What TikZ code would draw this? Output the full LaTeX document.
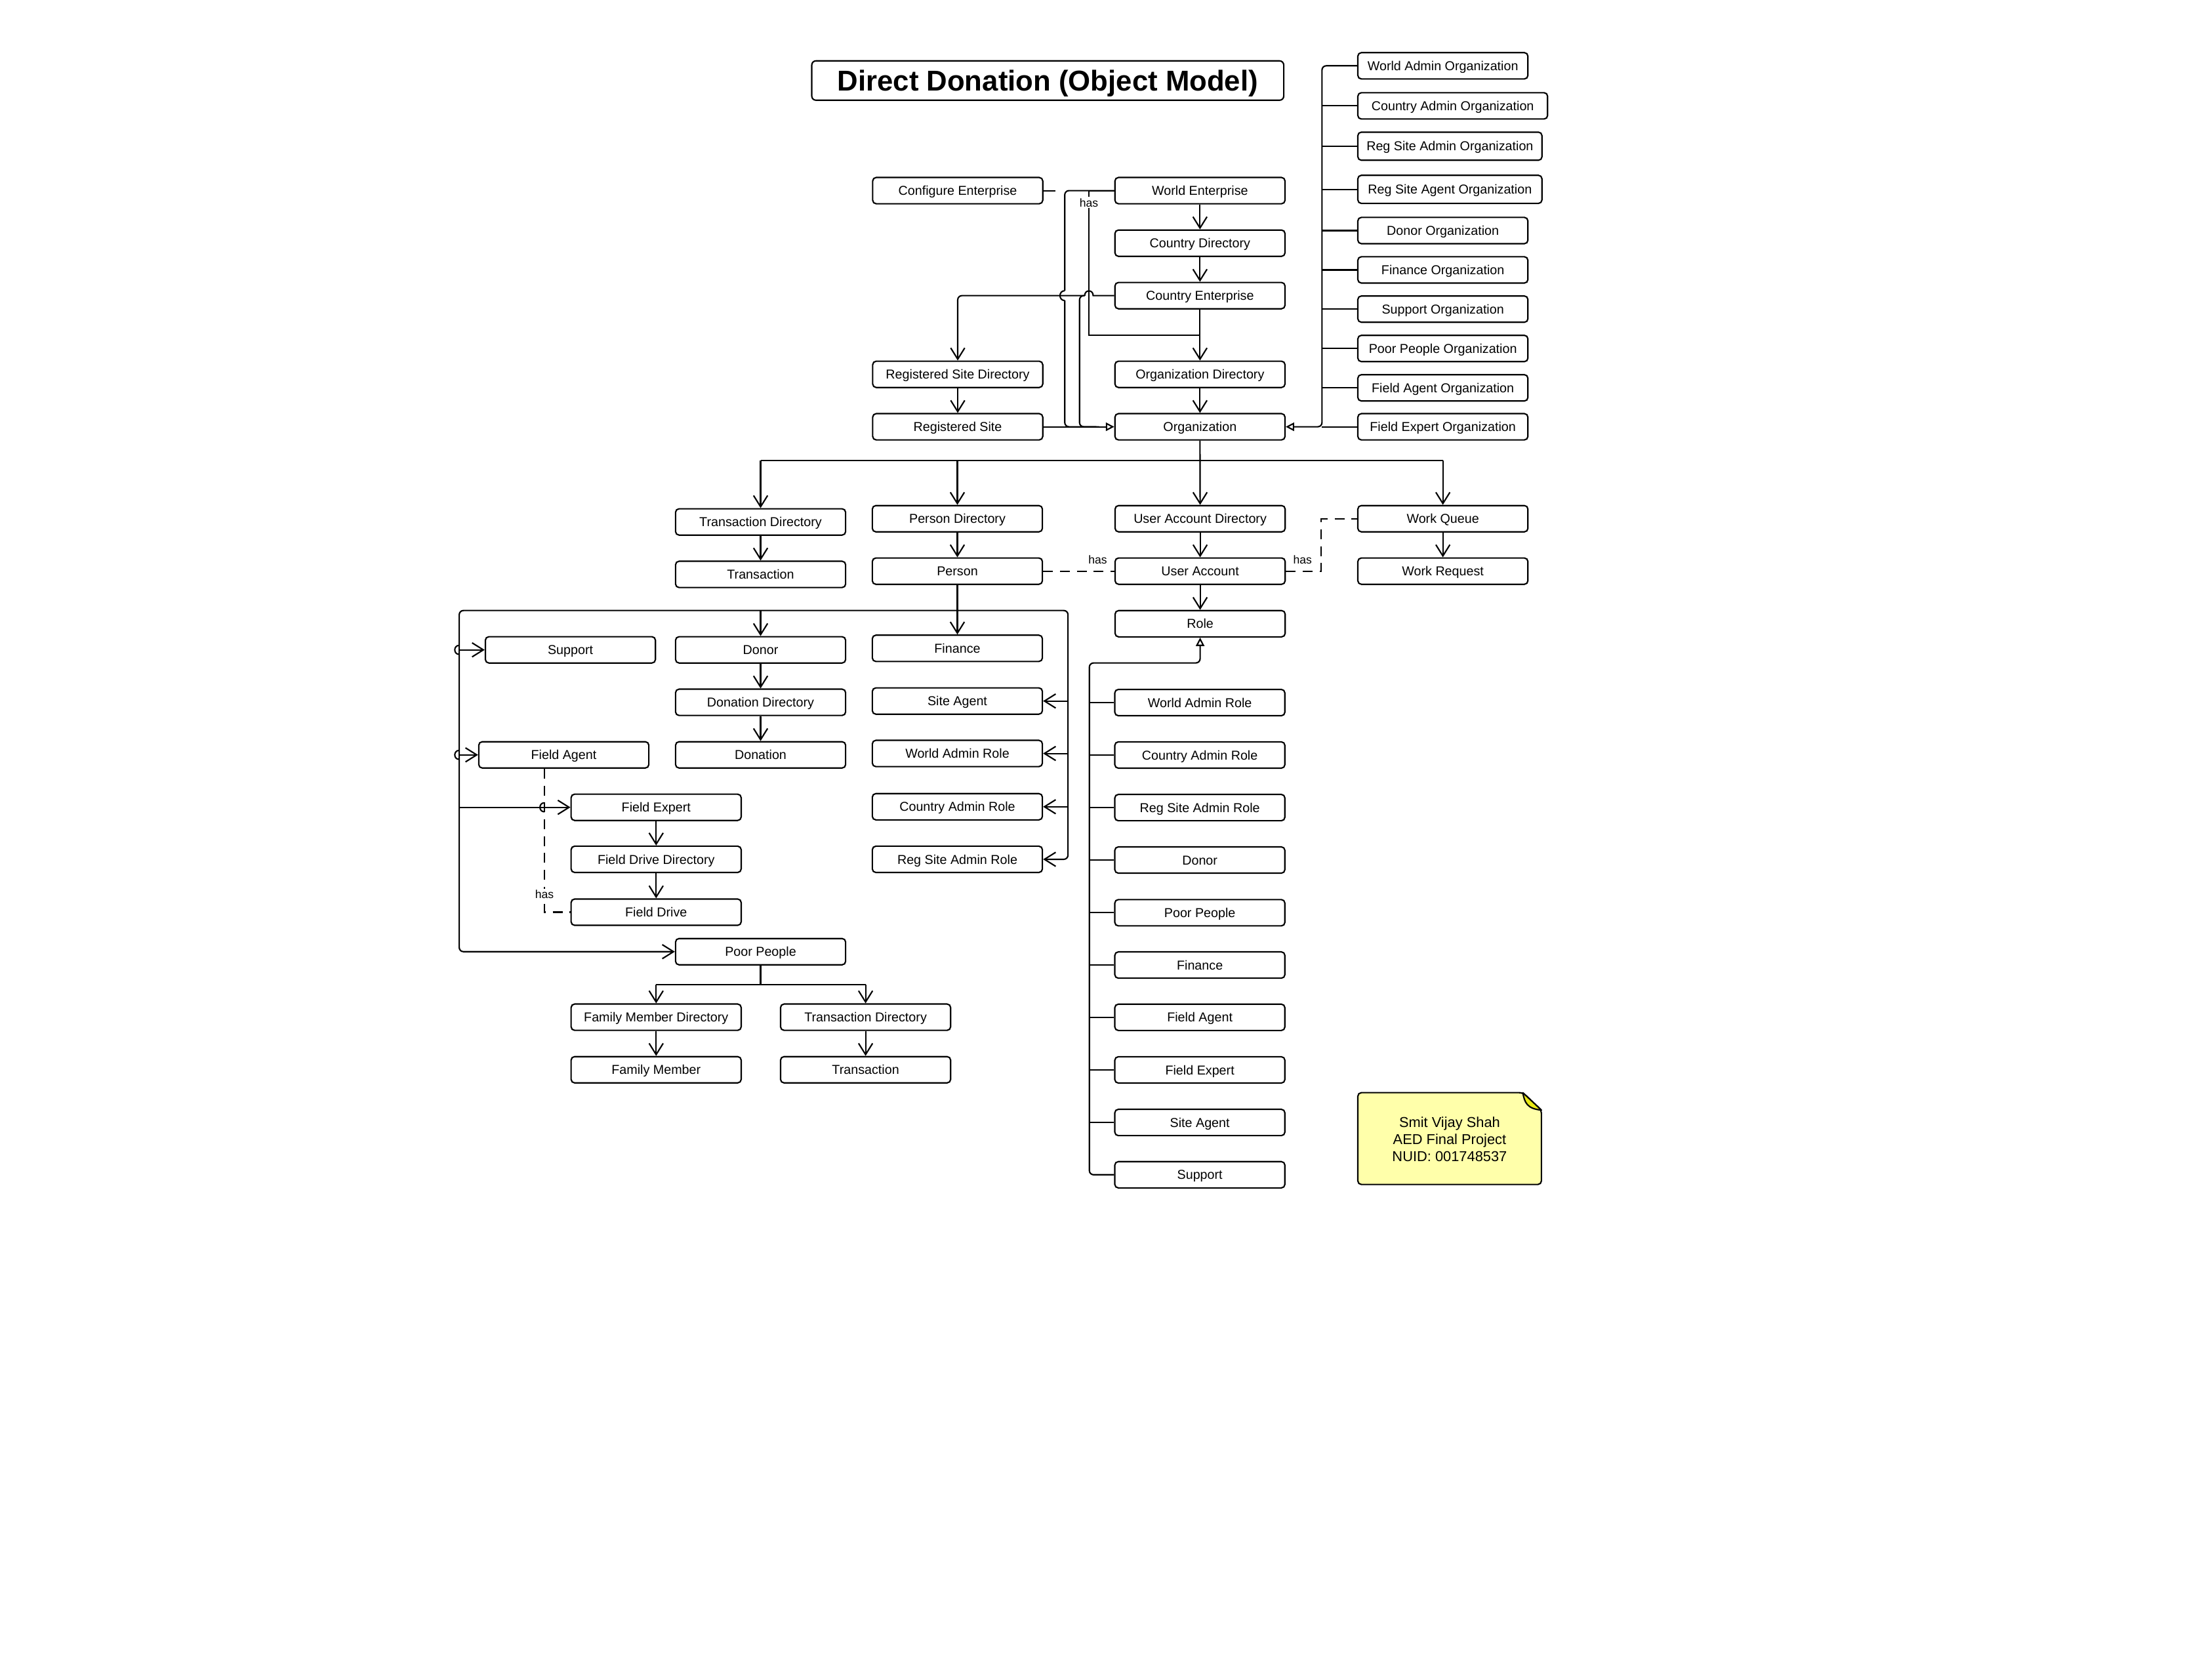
\documentclass[tikz,border=0pt]{standalone}
\usepackage{fontspec}
\setmainfont{Liberation Sans}
\usetikzlibrary{arrows.meta}
\definecolor{notefill}{RGB}{255,255,170}
\definecolor{foldfill}{RGB}{232,232,20}
\begin{document}
\begin{tikzpicture}[x=1pt,y=-1pt,
 box/.style={draw, line width=1pt, rounded corners=2.5pt, minimum width=121pt, minimum height=18.7pt, inner sep=0pt, text height=6.6pt, text depth=0pt, font=\fontsize{9.2}{11}\selectfont, fill=white},
 ln/.style={line width=1pt},
 arr/.style={ln, -{Straight Barb[length=8pt,width=10pt]}},
 gen/.style={ln, -{Triangle[open,length=6pt,width=6pt,fill=white]}},
 dl/.style={ln, dash pattern=on 7pt off 5pt},
 haslbl/.style={font=\fontsize{8.2}{10}\selectfont, fill=white, inner sep=1pt},
]
\useasboundingbox (0,0) rectangle (1568,1194.7);
\fill[white] (0,0) rectangle (1568,1194.7);

% title
\node[draw, line width=1pt, rounded corners=3pt, minimum width=335.8pt, minimum height=28pt, inner sep=0pt, text height=14.6pt, text depth=0pt, font=\fontsize{20.4}{24}\selectfont\bfseries] (title) at (745.4,57.3) {Direct Donation (Object Model)};

% top section
\node[box] (conf) at (681.35,135.6) {Configure Enterprise};
\node[box] (we) at (853.7,135.6) {World Enterprise};
\node[box] (cd) at (853.7,173) {Country Directory};
\node[box] (ce) at (853.7,210.3) {Country Enterprise};
\node[box] (rsd) at (681.35,266.3) {Registered Site Directory};
\node[box] (od) at (853.7,266.3) {Organization Directory};
\node[box] (rs) at (681.35,303.6) {Registered Site};
\node[box] (org) at (853.7,303.6) {Organization};

% organization list
\node[box] (o1) at (1026.5,46.8) {World Admin Organization};
\node[box, minimum width=135pt] (o2) at (1033.5,75.3) {Country Admin Organization};
\node[box, minimum width=131pt, minimum height=20pt] (o3) at (1031.5,104) {Reg Site Admin Organization};
\node[box, minimum width=131pt, minimum height=20pt] (o4) at (1031.5,134.7) {Reg Site Agent Organization};
\node[box] (o5) at (1026.5,164) {Donor Organization};
\node[box] (o6) at (1026.5,192) {Finance Organization};
\node[box] (o7) at (1026.5,219.9) {Support Organization};
\node[box] (o8) at (1026.5,247.9) {Poor People Organization};
\node[box] (o9) at (1026.5,275.9) {Field Agent Organization};
\node[box] (o10) at (1026.5,303.6) {Field Expert Organization};

% middle
\node[box] (td) at (541.1,371.3) {Transaction Directory};
\node[box] (tr) at (541.1,408.6) {Transaction};
\node[box] (pd) at (681.1,369) {Person Directory};
\node[box] (pe) at (681.1,406.3) {Person};
\node[box] (uad) at (853.8,369) {User Account Directory};
\node[box] (ua) at (853.8,406.3) {User Account};
\node[box] (wq) at (1026.5,369) {Work Queue};
\node[box] (wr) at (1026.5,406.3) {Work Request};
\node[box] (role) at (853.8,443.7) {Role};

% left group
\node[box] (sup) at (405.8,462.3) {Support};
\node[box] (don) at (541.1,462.3) {Donor};
\node[box] (fin) at (681.1,461.2) {Finance};
\node[box] (dd) at (541.1,499.6) {Donation Directory};
\node[box] (sa) at (681.1,498.7) {Site Agent};
\node[box] (dn) at (541.1,537) {Donation};
\node[box] (fa) at (401.1,537) {Field Agent};
\node[box] (war) at (681.1,536) {World Admin Role};
\node[box] (fe) at (466.8,574.3) {Field Expert};
\node[box] (car) at (681.1,573.9) {Country Admin Role};
\node[box] (fdd) at (466.8,611.3) {Field Drive Directory};
\node[box] (rsar) at (681.1,611.3) {Reg Site Admin Role};
\node[box] (fd) at (466.8,648.9) {Field Drive};
\node[box] (pp) at (541.1,677) {Poor People};
\node[box] (fmd) at (466.8,723.6) {Family Member Directory};
\node[box] (td2) at (615.8,723.6) {Transaction Directory};
\node[box] (fm) at (466.8,761) {Family Member};
\node[box] (tr2) at (615.8,761) {Transaction};

% role list
\node[box] (r1) at (853.6,499.8) {World Admin Role};
\node[box] (r2) at (853.6,537.1) {Country Admin Role};
\node[box] (r3) at (853.6,574.5) {Reg Site Admin Role};
\node[box] (r4) at (853.6,611.8) {Donor};
\node[box] (r5) at (853.6,649.3) {Poor People};
\node[box] (r6) at (853.6,686.5) {Finance};
\node[box] (r7) at (853.6,723.7) {Field Agent};
\node[box] (r8) at (853.6,761.1) {Field Expert};
\node[box] (r9) at (853.6,798.5) {Site Agent};
\node[box] (r10) at (853.6,835.7) {Support};

% note
\draw[ln, fill=notefill, rounded corners=2.5pt] (966,777.3) -- (1083.4,777.3) -- (1096.6,789.7) -- (1096.6,842.6) -- (966,842.6) -- cycle;
\draw[ln, fill=foldfill, line join=round] (1083.4,777.3) .. controls (1084.5,784.3) and (1086.5,788.8) .. (1096.6,789.7) -- cycle;
\node[font=\fontsize{10.2}{12.2}\selectfont, align=center] (note) at (1031.3,810.5) {Smit Vijay Shah\\AED Final Project\\NUID: 001748537};

% ---------- connectors: top ----------
\draw[arr] (we.south) -- (cd.north);
\draw[arr] (cd.south) -- (ce.north);
\draw[arr] (ce.south) -- (od.north);
\draw[arr] (od.south) -- (org.north);
\draw[arr] (rsd.south) -- (rs.north);
\draw[ln] (conf.east) -- (751,135.6);
% World Enterprise generalization
\draw[ln, rounded corners=3pt] (we.west) -- (757.5,135.6) -- (757.5,206.8);
\draw[ln] (757.5,206.8) .. controls (753,206.8) and (753,213.8) .. (757.5,213.8);
\draw[ln, rounded corners=3pt] (757.5,213.8) -- (757.5,303.6) -- (780,303.6);
% Country Enterprise to Registered Site Directory
\draw[ln] (ce.west) -- (777.7,210.3) .. controls (777.7,205.8) and (771.7,205.8) .. (771.7,210.3);
\draw[arr, rounded corners=3pt] (771.7,210.3) -- (681.35,210.3) -- (rsd.north);
% Country Enterprise generalization
\draw[ln, rounded corners=3pt] (771.7,210.3) -- (768,210.3) -- (768,303.6) -- (782,303.6);
% Registered Site generalization
\draw[gen] (rs.east) -- (org.west);
% has: World Enterprise -> Organization Directory
\draw[ln] (we.west) -- (774.7,135.6) -- (774.7,238.3) -- (853.7,238.3);
\node[haslbl] (has1) at (774.7,144.1) {has};

% organization list bus
\coordinate (obus) at (940.5,0);
\draw[gen, rounded corners=3pt] (o1.west) -- (o1.west -| obus) -- (o10.west -| obus) -- (org.east);
\foreach \nm in {o2,o3,o4,o5,o6,o7,o8,o9,o10} \draw[ln] (\nm.west) -- (\nm.west -| obus);

% ---------- connectors: middle ----------
\draw[arr] (org.south) -- (uad.north);
\coordinate (b1) at (853.7,327.7);
\draw[ln] (td.north |- b1) -- (wq.north |- b1);
\foreach \nm in {td,pd,wq} \draw[arr] (\nm.north |- b1) -- (\nm.north);
\draw[arr] (td.south) -- (tr.north);
\draw[arr] (pd.south) -- (pe.north);
\draw[arr] (uad.south) -- (ua.north);
\draw[arr] (ua.south) -- (role.north);
\draw[arr] (wq.south) -- (wr.north);
\draw[dl] (pe.east) -- (ua.west);
\node[font=\fontsize{8.2}{10}\selectfont, inner sep=1pt] (has2) at (781,398.3) {has};
\draw[dl] (ua.east) -- (940,406.3) -- (940,369) -- (wq.west);
\node[font=\fontsize{8.2}{10}\selectfont, inner sep=1pt] (has3) at (926.7,398.3) {has};

% ---------- connectors: left group ----------
\coordinate (b2) at (681.1,434.3);
\coordinate (rbus) at (759.8,0);
\coordinate (lbus) at (326.7,0);
\draw[arr] (pe.south) -- (fin.north);
\draw[arr, rounded corners=3pt] (b2) -- (759.8,434.3) -- (rsar.east -| rbus) -- (rsar.east);
\draw[arr, rounded corners=3pt] (b2) -- (326.7,434.3) -- (pp.west -| lbus) -- (pp.west);
\draw[arr] (don.north |- b2) -- (don.north);
\foreach \nm in {sa,war,car} \draw[arr] (\nm.east -| rbus) -- (\nm.east);
\foreach \nm in {sup,fa,fe} \draw[arr] (\nm.west -| lbus) -- (\nm.west);
\draw[ln] (326.7,459.1) .. controls (322.5,459.1) and (322.5,465.5) .. (326.7,465.5);
\draw[ln] (326.7,533.8) .. controls (322.5,533.8) and (322.5,540.2) .. (326.7,540.2);
\draw[arr] (don.south) -- (dd.north);
\draw[arr] (dd.south) -- (dn.north);
\draw[arr] (fe.south) -- (fdd.north);
\draw[arr] (fdd.south) -- (fd.north);
\coordinate (hx) at (387.3,0);
\draw[dl] (fa.south -| hx) -- (hx |- fd.west) -- (fd.west);
\draw[ln] (387.3,571.1) .. controls (383.1,571.1) and (383.1,577.5) .. (387.3,577.5);
\node[haslbl] (has4) at (387.3,636.3) {has};

% poor people
\coordinate (b3) at (541.1,700.3);
\draw[ln] (pp.south) -- (b3);
\draw[ln] (fmd.north |- b3) -- (td2.north |- b3);
\draw[arr] (fmd.north |- b3) -- (fmd.north);
\draw[arr] (td2.north |- b3) -- (td2.north);
\draw[arr] (fmd.south) -- (fm.north);
\draw[arr] (td2.south) -- (tr2.north);

% ---------- role list ----------
\coordinate (rb) at (775,0);
\draw[gen, rounded corners=3pt] (r10.west) -- (r10.west -| rb) -- (775,471.6) -- (853.8,471.6) -- (role.south);
\foreach \nm in {r1,r2,r3,r4,r5,r6,r7,r8,r9} \draw[ln] (\nm.west) -- (\nm.west -| rb);
\end{tikzpicture}
\end{document}
